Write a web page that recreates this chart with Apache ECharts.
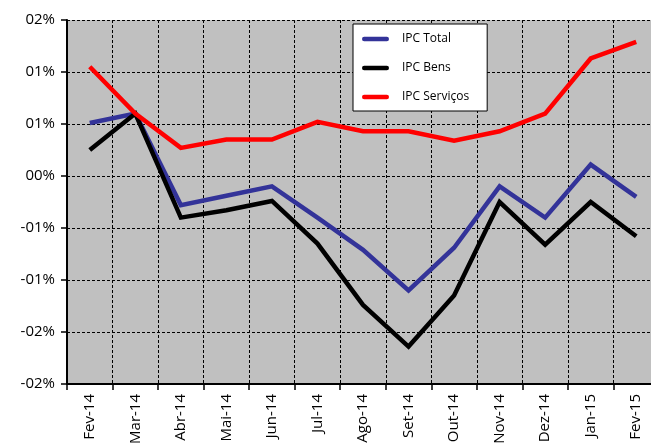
<!DOCTYPE html>
<html><head><meta charset="utf-8">
<script src="https://cdn.jsdelivr.net/npm/echarts@6/dist/echarts.min.js"></script>
<style>html,body{margin:0;padding:0;background:#fff;overflow:hidden;}#c{width:651px;height:446px;}</style>
</head><body><div id="c"></div>
<script>
var categories = ['Fev-14','Mar-14','Abr-14','Mai-14','Jun-14','Jul-14','Ago-14','Set-14','Out-14','Nov-14','Dez-14','Jan-15','Fev-15'];
var ipcTotal = [0.51, 0.60, -0.28, -0.19, -0.10, -0.40, -0.71, -1.10, -0.69, -0.10, -0.40, 0.11, -0.20];
var ipcBens = [0.25, 0.60, -0.40, -0.33, -0.24, -0.65, -1.24, -1.64, -1.15, -0.25, -0.66, -0.25, -0.58];
var ipcServicos = [1.05, 0.60, 0.27, 0.35, 0.35, 0.52, 0.43, 0.43, 0.34, 0.43, 0.60, 1.13, 1.29];
var yTickValues = [-2, -1.5, -1, -0.5, 0, 0.5, 1, 1.5];
var yTickLabels = ['-02%', '-02%', '-01%', '-01%', '00%', '01%', '01%', '02%'];

var font = 'Open Sans';
var chart = echarts.init(document.getElementById('c'));
function mk(name, data, color) {
  return {name: name, type: 'line', data: data, symbol: 'none',
    lineStyle: {color: color, width: 4.5, join: 'miter'}, itemStyle: {color: color}};
}
chart.setOption({
  animation: false,
  backgroundColor: '#ffffff',
  grid: {left: 67, width: 592, top: 20, height: 364, outerBoundsMode: 'none', containLabel: false,
    show: true, backgroundColor: '#c0c0c0', borderWidth: 0},
  legend: {
    orient: 'vertical', left: 353, top: 24,
    padding: [9, 18, 8, 9], itemGap: 17, itemWidth: 27, itemHeight: 14,
    backgroundColor: '#ffffff', borderColor: '#000000', borderWidth: 1, borderRadius: 0,
    textStyle: {fontFamily: font, fontSize: 12, color: '#000', padding: [0,0,0,8]},
    icon: 'path://M2,5 L28,5 A2,2 0 0 1 28,10 L2,10 A2,2 0 0 1 2,5 Z',
    data: ['IPC Total', 'IPC Bens', 'IPC Serviços']
  },
  xAxis: {
    type: 'category', data: categories, boundaryGap: true,
    axisLine: {onZero: false, lineStyle: {color: '#000', width: 2}},
    axisTick: {show: true, length: 6, lineStyle: {color: '#000', width: 1.5}},
    axisLabel: {rotate: 90, fontFamily: font, fontSize: 15, color: '#000', margin: 10, interval: 0},
    splitLine: {show: true, lineStyle: {color: '#000', type: [3, 2], width: 1}}
  },
  yAxis: {
    type: 'value', min: -2, max: 1.5, interval: 0.5,
    axisLine: {show: true, lineStyle: {color: '#000', width: 2}},
    axisTick: {show: true, length: 6, lineStyle: {color: '#000', width: 1.5}},
    axisLabel: {fontFamily: font, fontSize: 15, color: '#000', margin: 12,
      formatter: function (v) {
        for (var i = 0; i < yTickValues.length; i++) if (Math.abs(yTickValues[i] - v) < 1e-9) return yTickLabels[i];
        return '';
      }},
    splitLine: {show: true, lineStyle: {color: '#000', type: [3, 2], width: 1}}
  },
  series: [mk('IPC Total', ipcTotal, '#333399'), mk('IPC Bens', ipcBens, '#000000'), mk('IPC Serviços', ipcServicos, '#ff0000')]
});
</script></body></html>
